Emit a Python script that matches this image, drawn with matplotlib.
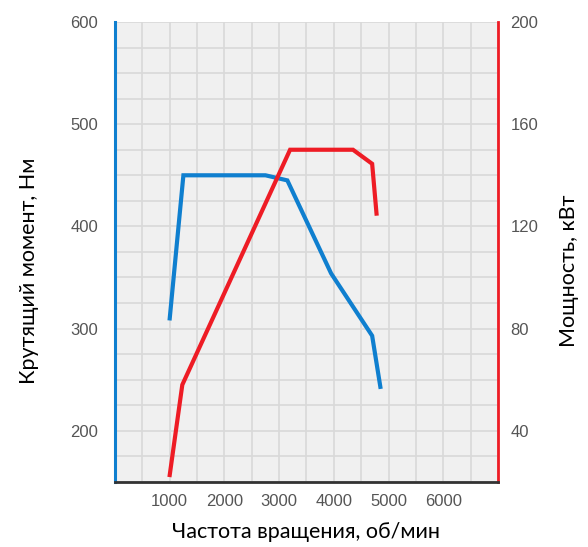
import matplotlib
matplotlib.use("Agg")
import matplotlib.pyplot as plt
from matplotlib.ticker import MultipleLocator, FixedLocator

# Data
torque_rpm = [1000, 1250, 2750, 3150, 3950, 4700, 4850]
torque_nm = [310, 450, 450, 445, 354, 293, 243]
power_rpm = [1000, 1230, 3200, 4350, 4700, 4780]
power_kw = [22.7, 58, 150, 150, 144.5, 125]
x_ticks = [1000, 2000, 3000, 4000, 5000, 6000]
left_ticks = [200, 300, 400, 500, 600]
right_ticks = [40, 80, 120, 160, 200]

BLUE = "#0f7fcf"
RED = "#ee1c25"

fig = plt.figure(figsize=(5.88, 5.47), dpi=100)
ax = fig.add_axes([0.1956, 0.119, 0.8469 - 0.1956, 0.9598 - 0.119])
ax.set_facecolor("#f0f0f0")
ax.set_xlim(0, 7000)
ax.set_ylim(150, 600)
ax.xaxis.set_minor_locator(MultipleLocator(500))
ax.yaxis.set_minor_locator(MultipleLocator(25))
ax.xaxis.set_major_locator(FixedLocator(x_ticks))
ax.yaxis.set_major_locator(FixedLocator(left_ticks))
ax.grid(which="both", color="#d9d9d9", linewidth=1.2)
ax.set_axisbelow(True)

ax2 = ax.twinx()
ax2.set_ylim(20, 200)
ax2.yaxis.set_major_locator(FixedLocator(right_ticks))

ax.plot(torque_rpm, torque_nm, color=BLUE, lw=3, solid_joinstyle="miter", zorder=3)
ax2.plot(power_rpm, power_kw, color=RED, lw=3, solid_joinstyle="miter", zorder=3)

for a in (ax, ax2):
    a.spines["top"].set_visible(False)
    a.tick_params(which="both", length=0)
ax.spines["right"].set_visible(False)
ax2.spines["left"].set_color(BLUE)
ax2.spines["left"].set_linewidth(2.2)
ax2.spines["right"].set_color(RED)
ax2.spines["right"].set_linewidth(2)
ax2.spines["bottom"].set_color("#333333")
ax2.spines["bottom"].set_linewidth(2)
ax.spines["left"].set_visible(False)
ax.spines["bottom"].set_visible(False)

tick_font = dict(family="Liberation Sans", size=12, color="#555555")
ax.set_xticks(x_ticks)
ax.set_xticklabels([str(v) for v in x_ticks], **tick_font)
ax.set_yticklabels([str(v) for v in left_ticks], **tick_font)
ax2.set_yticklabels([str(v) for v in right_ticks], **tick_font)
ax.tick_params(axis="y", pad=12)
ax.tick_params(axis="x", pad=9)
ax2.tick_params(axis="y", pad=9)

label_font = dict(family="Lato", size=15.5, color="black")
ax.set_xlabel("Частота вращения, об/мин", labelpad=9, **label_font)
ax.set_ylabel("Крутящий момент, Нм", **label_font)
ax2.set_ylabel("Мощность, кВт", **label_font)
ax.yaxis.set_label_coords(-0.198, 0.46)
ax2.yaxis.set_label_coords(1.16, 0.46)

fig.savefig("out.png", dpi=100)
